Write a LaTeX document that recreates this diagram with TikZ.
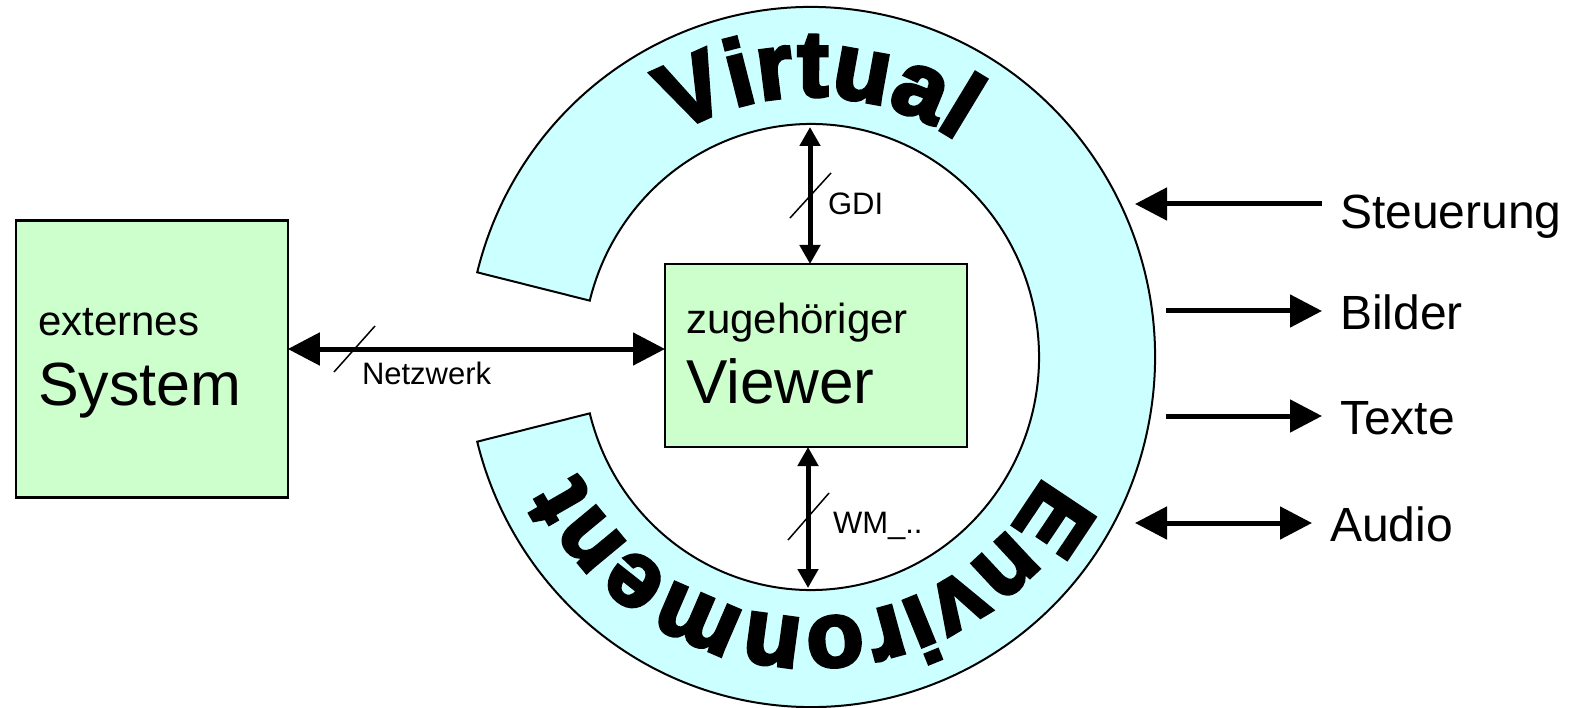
\documentclass[tikz,border=0pt]{standalone}
\usepackage{fontspec}
\setmainfont{Liberation Sans}
\newfontfamily\ringfam{Liberation Sans}[BoldFeatures={FakeBold=4}]
\usetikzlibrary{arrows.meta,decorations.text}
\definecolor{boxgreen}{RGB}{204,255,204}
\definecolor{ringcyan}{RGB}{204,255,255}
\newcommand{\fs}[1]{\fontsize{#1}{#1}\selectfont}
\newcommand{\ringstyle}{\ringfam\bfseries\fontsize{93}{93}\selectfont}

\begin{document}
\begin{tikzpicture}[x=1pt,y=-1pt,inner sep=0pt,outer sep=0pt,line width=5pt,
>={Triangle[length=32pt,width=32pt]},
sysbox/.style={draw,rectangle,fill=boxgreen,line width=2.5pt},
smallhead/.style={>={Triangle[length=19pt,width=20pt]}},
slash/.style={line width=1.5pt},
ringtext/.style={decorate,decoration={text along path,text align=fit to path,text={|\ringstyle|#1}}}]

\useasboundingbox (0,0) rectangle (1570,708);

\coordinate (ctr) at (811,357);
\draw[fill=ringcyan,line width=2pt] ([shift={(194:344 and 350)}]ctr) arc[start angle=194,end angle=526,x radius=344,y radius=350]
  -- ([shift={(166:228 and 233)}]ctr) arc[start angle=166,end angle=-166,x radius=228,y radius=233] -- cycle;
\path[ringtext=Virtual] ([shift={(239:261)}]ctr) arc[start angle=239,end angle=304,radius=261];
\path[ringtext=Environment] ([shift={(27:261)}]ctr) arc[start angle=27,end angle=153.5,radius=261];

\draw (151.8,359.2) node[sysbox,minimum width=272pt,minimum height=277pt] (extsys) {};
\draw (38,335) node[anchor=base west] (lblExt) {\fs{42}externes};
\draw (38,405) node[anchor=base west] (lblSystem) {\fs{61}System};

\draw (816,355.5) node[sysbox,minimum width=302pt,minimum height=183pt] (viewer) {};
\draw (686,333) node[anchor=base west] (lblZug) {\fs{42}zugehöriger};
\draw (686,403) node[anchor=base west] (lblViewer) {\fs{62}Viewer};

\draw[<->] (extsys.east |- 0,349) -- (viewer.west |- 0,349);
\draw[slash] (334,372) -- (375,326);
\draw (362,384) node[anchor=base west] (lblNetz) {\fs{31}Netzwerk};

\coordinate (gdiTop) at (810,127);
\draw[smallhead,<->] (gdiTop) -- (gdiTop |- viewer.north);
\draw[slash] (790,218) -- (831,173);
\draw (828,215) node[anchor=base west] (lblGDI) {\fs{31}GDI};

\coordinate (wmBot) at (808,588);
\draw[smallhead,<->] (wmBot |- viewer.south) -- (wmBot);
\draw[slash] (788,540) -- (829,493);
\draw (833,533) node[anchor=base west] (lblWM) {\fs{31}WM\_..};

\draw (1340,229) node[anchor=base west] (lblSteuer) {\fs{48}Steuerung};
\draw (1340,329) node[anchor=base west] (lblBilder) {\fs{48}Bilder};
\draw (1340,434) node[anchor=base west] (lblTexte) {\fs{48}Texte};
\draw (1330,541) node[anchor=base west] (lblAudio) {\fs{48}Audio};

\coordinate (steuerA) at (1322,204);
\coordinate (steuerB) at (1135,204);
\coordinate (bilderA) at (1166,311);
\coordinate (bilderB) at (1322,311);
\coordinate (texteA) at (1166,416);
\coordinate (texteB) at (1322,416);
\coordinate (audioA) at (1135,523);
\coordinate (audioB) at (1312,523);
\draw[->] (steuerA) -- (steuerB);
\draw[->] (bilderA) -- (bilderB);
\draw[->] (texteA) -- (texteB);
\draw[<->] (audioA) -- (audioB);
\end{tikzpicture}
\end{document}
